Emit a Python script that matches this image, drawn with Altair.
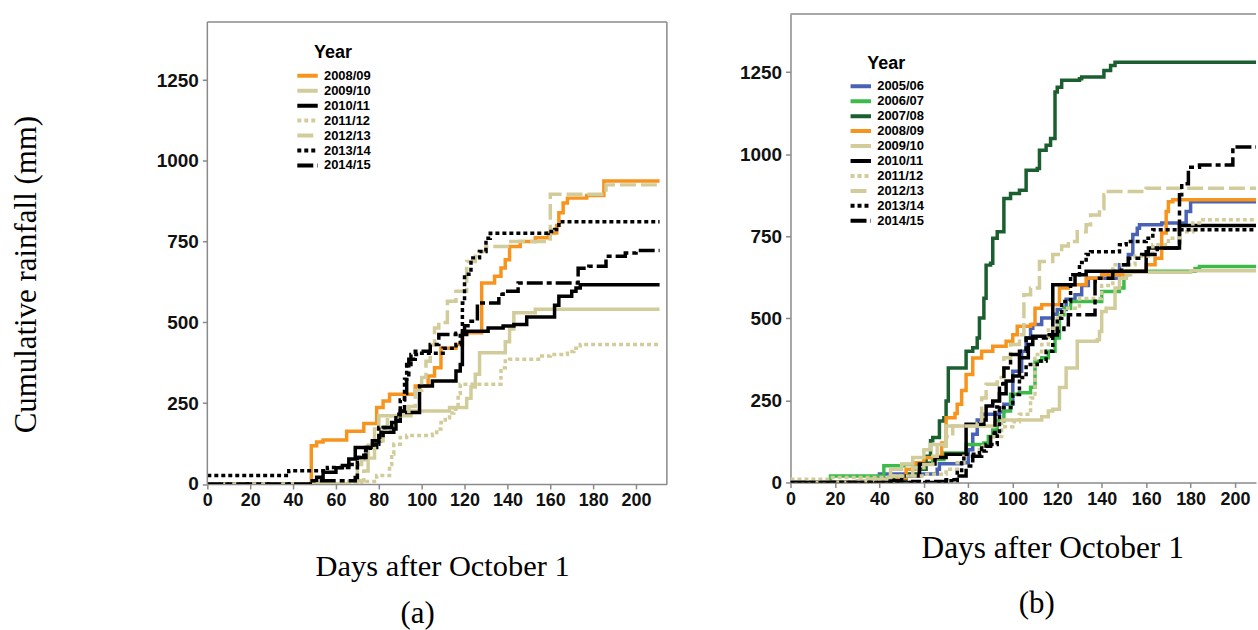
import altair as alt
import pandas as pd

# ---------------- Panel (a) ----------------
a_years = ["2008/09", "2009/10", "2010/11", "2011/12", "2012/13", "2013/14", "2014/15"]
a_colors = ["#f7941e", "#d2cc9a", "#000000", "#d2cc9a", "#d2cc9a", "#000000", "#000000"]
a_dashes = [[1, 0], [1, 0], [1, 0], [4, 3], [16, 5], [4, 3], [16, 4, 5, 4]]

a_0809_day = [0, 48.5, 51, 54, 65, 73, 79, 82, 85, 97, 103, 106, 109, 116, 119, 128, 134, 137, 139, 141, 146, 153, 159, 163, 164, 166, 168, 177, 185, 211]
a_0809_mm = [0, 118, 130, 136, 163, 187, 237, 257, 278, 303, 334, 360, 420, 432, 468, 622, 643, 669, 694, 735, 751, 762, 777, 800, 840, 870, 885, 893, 938, 938]
a_0910_day = [0, 66, 70, 72, 75, 78, 80, 94, 95, 111, 113, 119, 121, 123, 125, 127, 137, 139, 141, 143, 153, 211]
a_0910_mm = [0, 8, 60, 75, 120, 170, 211, 211, 226, 226, 237, 237, 265, 300, 340, 406, 406, 440, 480, 530, 541, 541]
a_1011_day = [0, 49, 51, 54, 60, 63, 66, 69, 77, 79, 81, 87, 88, 90, 98, 99, 105, 115, 116, 118, 119, 121, 131, 138, 143, 149, 162, 164, 170, 172, 174, 211]
a_1011_mm = [0, 10, 21, 36, 50, 57, 77, 113, 113, 134, 160, 170, 195, 221, 221, 303, 319, 319, 350, 370, 463, 473, 483, 489, 494, 517, 553, 581, 597, 607, 617, 617]
a_1112_day = [0, 72, 79, 84, 85, 86, 87, 90, 93, 105, 107, 109, 111, 113, 115, 117, 118, 136, 137, 139, 141, 156, 160, 168, 171, 174, 211]
a_1112_mm = [0, 8, 26, 26, 60, 93, 123, 144, 150, 154, 170, 190, 205, 220, 231, 280, 309, 309, 360, 381, 386, 396, 401, 410, 420, 432, 432]
a_1213_day = [0, 70, 73, 75, 78, 82, 84, 90, 94, 97, 100, 102, 104, 106, 108, 112, 116, 121, 125, 130, 140, 160, 186, 211]
a_1213_mm = [0, 10, 40, 80, 134, 170, 211, 215, 240, 290, 330, 380, 430, 483, 500, 566, 597, 689, 720, 735, 751, 897, 926, 926]
a_1314_day = [0, 38, 56, 66, 70, 73, 76, 80, 86, 88, 90, 92, 93, 95, 99, 110, 116, 118, 119, 120, 123, 127, 130, 132, 159, 162, 164, 211]
a_1314_mm = [26, 41, 51, 60, 82, 103, 123, 175, 190, 216, 260, 324, 370, 401, 405, 420, 432, 473, 560, 649, 700, 720, 761, 776, 782, 788, 812, 812]
a_1415_day = [0, 48, 69, 70, 74, 77, 80, 82, 86, 90, 92, 93, 94, 97, 104, 108, 116, 120, 123, 126, 136, 138, 145, 173, 178, 186, 195, 200, 211]
a_1415_mm = [0, 10, 20, 82, 113, 134, 150, 175, 195, 226, 280, 329, 386, 411, 432, 463, 467, 490, 504, 560, 587, 597, 622, 668, 674, 705, 715, 723, 723]

# ---------------- Panel (b) ----------------
b_years = ["2005/06", "2006/07", "2007/08", "2008/09", "2009/10", "2010/11", "2011/12", "2012/13", "2013/14", "2014/15"]
b_colors = ["#4a62b5", "#3dbb4a", "#1b5e2f", "#f7941e", "#d2cc9a", "#000000", "#d2cc9a", "#d2cc9a", "#000000", "#000000"]
b_dashes = [[1, 0], [1, 0], [1, 0], [1, 0], [1, 0], [1, 0], [4, 3], [16, 5], [4, 3], [16, 4, 5, 4]]

b_0506_day = [0, 38, 40, 66, 67, 77, 80, 82, 84, 86, 94, 96, 100, 104, 106, 108, 109, 113, 118, 120, 124, 128, 131, 134, 148, 152, 154, 156, 157, 167, 178, 180, 210]
b_0506_mm = [0, 10, 26, 40, 57, 60, 100, 147, 190, 208, 215, 238, 339, 400, 440, 470, 481, 501, 512, 527, 558, 572, 600, 622, 663, 694, 755, 774, 785, 790, 825, 855, 855]
b_0607_day = [0, 18, 42, 51, 60, 64, 69, 79, 87, 89, 91, 93, 96, 99, 103, 108, 110, 113, 116, 119, 121, 123, 126, 140, 148, 150, 151, 182, 184, 210]
b_0607_mm = [0, 20, 51, 55, 60, 70, 90, 116, 120, 140, 160, 187, 218, 269, 273, 290, 369, 380, 400, 440, 511, 531, 551, 582, 592, 622, 643, 652, 658, 658]
b_0708_day = [0, 40, 52, 58, 61, 63, 64, 67, 69, 70, 71, 78, 79, 82, 84, 85, 87, 88, 90, 91, 93, 96, 99, 103, 106, 111, 112, 115, 117, 119, 120, 122, 130, 131, 141, 144, 146, 210]
b_0708_mm = [0, 10, 25, 40, 80, 127, 137, 187, 197, 248, 349, 349, 400, 410, 440, 501, 561, 662, 668, 744, 764, 865, 880, 890, 951, 956, 1012, 1027, 1048, 1189, 1204, 1225, 1230, 1235, 1255, 1270, 1280, 1280]
b_0809_day = [0, 40, 48, 52, 56, 60, 67, 68, 70, 74, 75, 77, 79, 82, 86, 91, 97, 100, 102, 108, 110, 113, 121, 125, 133, 140, 152, 160, 164, 167, 169, 170, 172, 210]
b_0809_mm = [0, 5, 14, 40, 60, 75, 80, 120, 197, 210, 238, 280, 329, 379, 400, 415, 430, 450, 476, 481, 531, 541, 592, 602, 622, 633, 643, 663, 683, 760, 825, 855, 861, 861]
b_0910_day = [0, 35, 45, 50, 55, 60, 63, 70, 92, 95, 113, 116, 118, 121, 124, 129, 138, 139, 140, 142, 146, 148, 151, 153, 180, 210]
b_0910_mm = [0, 10, 40, 56, 76, 100, 116, 172, 180, 190, 200, 218, 223, 289, 349, 430, 435, 460, 521, 531, 592, 622, 633, 640, 645, 645]
b_1011_day = [0, 40, 50, 58, 65, 70, 79, 87, 88, 91, 94, 97, 100, 103, 107, 109, 117, 118, 128, 133, 160, 161, 175, 210]
b_1011_mm = [0, 5, 20, 56, 76, 86, 177, 190, 233, 248, 270, 309, 324, 380, 420, 445, 450, 602, 633, 643, 703, 714, 783, 783]
b_1112_day = [0, 18, 45, 60, 70, 75, 78, 85, 90, 95, 100, 103, 108, 110, 113, 116, 120, 123, 130, 140, 145, 155, 163, 170, 175, 181, 184, 210]
b_1112_mm = [10, 15, 20, 25, 40, 60, 80, 110, 140, 170, 185, 208, 257, 390, 420, 470, 510, 531, 560, 600, 663, 690, 724, 744, 764, 790, 800, 800]
b_1213_day = [0, 30, 45, 55, 60, 64, 66, 70, 73, 84, 86, 88, 93, 96, 99, 103, 105, 108, 112, 118, 122, 125, 129, 133, 135, 139, 141, 143, 160, 210]
b_1213_mm = [0, 5, 20, 45, 55, 80, 110, 140, 172, 180, 257, 299, 320, 380, 420, 450, 572, 592, 673, 694, 720, 734, 764, 785, 815, 834, 876, 886, 896, 896]
b_1314_day = [0, 70, 75, 77, 78, 85, 88, 93, 94, 100, 103, 106, 111, 115, 118, 120, 122, 126, 130, 133, 135, 148, 151, 160, 163, 210]
b_1314_mm = [0, 5, 30, 66, 86, 96, 116, 147, 228, 268, 320, 359, 370, 400, 450, 500, 551, 633, 670, 694, 703, 724, 734, 744, 770, 770]
b_1415_day = [0, 55, 70, 75, 79, 82, 86, 90, 92, 94, 96, 99, 103, 106, 115, 120, 123, 125, 136, 137, 139, 145, 149, 152, 158, 165, 175, 176, 179, 184, 197, 199, 210]
b_1415_mm = [0, 3, 8, 20, 50, 80, 110, 150, 230, 300, 349, 390, 400, 440, 450, 460, 480, 511, 511, 612, 622, 643, 663, 683, 694, 714, 876, 910, 960, 967, 967, 1022, 1022]

# ---------------- Axis ticks and texts ----------------
y_ticks = [0, 250, 500, 750, 1000, 1250]
x_ticks = [0, 20, 40, 60, 80, 100, 120, 140, 160, 180, 200]
y_title = "Cumulative rainfall (mm)"
x_title = "Days after October 1"
tags = ["(a)", "(b)"]
legend_title = "Year"

GRAY = "#8a8a8a"
SANS = "Liberation Sans"
SERIF = "Liberation Serif"


def long_df(years, day_lists, mm_lists):
    rows = []
    for y, ds, vs in zip(years, day_lists, mm_lists):
        for d, v in zip(ds, vs):
            rows.append({"Year": y, "Day": d, "Rain": v})
    return pd.DataFrame(rows)


df_a = long_df(a_years,
               [a_0809_day, a_0910_day, a_1011_day, a_1112_day, a_1213_day, a_1314_day, a_1415_day],
               [a_0809_mm, a_0910_mm, a_1011_mm, a_1112_mm, a_1213_mm, a_1314_mm, a_1415_mm])
df_b = long_df(b_years,
               [b_0506_day, b_0607_day, b_0708_day, b_0809_day, b_0910_day, b_1011_day, b_1112_day, b_1213_day, b_1314_day, b_1415_day],
               [b_0506_mm, b_0607_mm, b_0708_mm, b_0809_mm, b_0910_mm, b_1011_mm, b_1112_mm, b_1213_mm, b_1314_mm, b_1415_mm])


def make_legend(lx, ly, tpad):
    return alt.Legend(orient="none", legendX=lx, legendY=ly, title=legend_title,
                      titleFont=SANS, titleFontSize=18, titleFontWeight="bold", titleColor="black",
                      titleAnchor="middle", titlePadding=tpad,
                      labelFont=SANS, labelFontSize=13, labelFontWeight="bold", labelColor="black",
                      labelOffset=4, symbolType="stroke", symbolSize=420, symbolStrokeWidth=4,
                      clipHeight=15, rowPadding=0, padding=0)


def lines_layer(df, years, colors, dashes, xmax, ymax, legend, y_domain_line):
    return alt.Chart(df).mark_line(interpolate="step-after", strokeWidth=3.5, clip=True).encode(
        x=alt.X("Day:Q", scale=alt.Scale(domain=[0, xmax], nice=False, zero=False),
                axis=alt.Axis(values=x_ticks, format="d", grid=False, title=None, domainColor=GRAY, domainWidth=1.5,
                              tickColor=GRAY, tickWidth=1.5, tickSize=5, labelFont=SANS, labelFontSize=18,
                              labelFontWeight="bold", labelColor="#111111", labelPadding=3, labelFlush=False)),
        y=alt.Y("Rain:Q", scale=alt.Scale(domain=[0, ymax], nice=False),
                axis=alt.Axis(values=y_ticks, format="d", grid=False, title=None, domain=y_domain_line,
                              domainColor=GRAY, domainWidth=1.5,
                              tickColor=GRAY, tickWidth=1.5, tickSize=5, labelFont=SANS, labelFontSize=19,
                              labelFontWeight="bold", labelColor="#111111", labelPadding=4, labelFlush=False)),
        color=alt.Color("Year:N", scale=alt.Scale(domain=years, range=colors), legend=legend),
        strokeDash=alt.StrokeDash("Year:N", scale=alt.Scale(domain=years, range=dashes), legend=legend),
    )


def text_layer(txt, x, y, size, angle=0, baseline="alphabetic"):
    return alt.Chart(pd.DataFrame({"label": [txt]})).mark_text(
        font=SERIF, fontSize=size, color="black", align="center", baseline=baseline, angle=angle
    ).encode(x=alt.value(x), y=alt.value(y), text="label:N")


one = pd.DataFrame({"k": [0]})
frame_rule = dict(color=GRAY, strokeWidth=1.5)

# Panel (a): its plot box starts lower than panel (b)'s, so the plotting area is
# extended upward and the visible frame is drawn at the top of the value range.
WA, HA = 461, 471.5
A_YMAX = 1455.2     # scale top (plot-area top)
A_FRAME = 1430      # value at which panel (a)'s frame top sits
leg_a = make_legend(88, 30.5, 6)
panel_a = alt.layer(
    lines_layer(df_a, a_years, a_colors, a_dashes, 214.4, A_YMAX, leg_a, False),
    alt.Chart(one).mark_rule(**frame_rule).encode(x=alt.value(0), x2=alt.value(WA), y=alt.datum(A_FRAME)),
    alt.Chart(one).mark_rule(**frame_rule).encode(x=alt.value(0), y=alt.datum(0), y2=alt.datum(A_FRAME)),
    alt.Chart(one).mark_rule(**frame_rule).encode(x=alt.value(WA), y=alt.datum(0), y2=alt.datum(A_FRAME)),
    text_layer(y_title, -181, 261.5, 31, angle=270, baseline="middle"),
    text_layer(x_title, 236, 563.5, 30.5),
    text_layer(tags[0], 211, 610.5, 31),
).properties(width=WA, height=HA, view=alt.ViewBackground(stroke="transparent"))

# Panel (b)
WB, HB = 467, 470
leg_b = make_legend(58, 41, 6)
panel_b = alt.layer(
    lines_layer(df_b, b_years, b_colors, b_dashes, WB / 2.23, 1427, leg_b, True),
    alt.Chart(one).mark_rule(**frame_rule).encode(x=alt.value(0), x2=alt.value(WB), y=alt.value(0)),
    text_layer(x_title, 263, 546, 31.5),
    text_layer(tags[1], 247, 601, 31),
).properties(width=WB, height=HB, view=alt.ViewBackground(stroke="transparent"))

chart = alt.hconcat(panel_a, panel_b, spacing=70).resolve_scale(
    color="independent", strokeDash="independent", x="independent", y="independent"
).resolve_legend(color="independent", strokeDash="independent").properties(
    padding={"left": 10, "top": 11, "right": 0, "bottom": 0}, background="white"
)

chart.save("out.html", embed_options={"renderer": "svg", "actions": False})
